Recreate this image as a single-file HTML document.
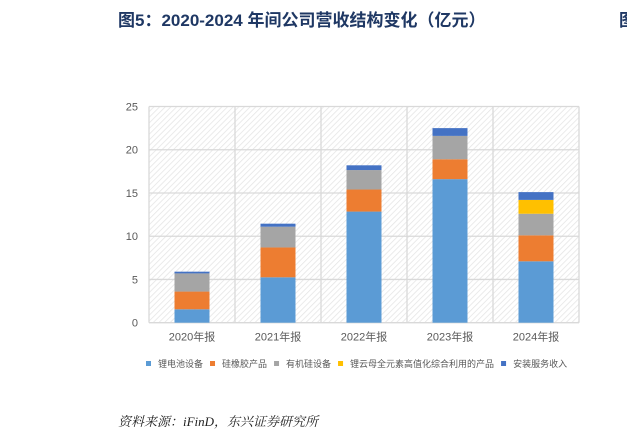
<!DOCTYPE html>
<html><head><meta charset="utf-8"><style>
body{margin:0;width:627px;height:441px;background:#fff;overflow:hidden;position:relative;font-family:"Liberation Sans","Noto Sans CJK SC",sans-serif}
.title{position:absolute;left:118px;top:6px;font-size:17px;font-weight:bold;color:#1f3864;white-space:nowrap}
.src{position:absolute;left:118px;top:411px;font-size:13px;font-style:italic;color:#222;font-family:"Liberation Serif","Noto Serif CJK SC",serif}
</style></head><body>
<div class="title">图5：2020-2024 年间公司营收结构变化（亿元）</div>
<div class="title" style="left:619px">图</div>
<svg id="c" width="627" height="441" style="position:absolute;left:0;top:0">
<defs><pattern id="h" width="4" height="4" patternUnits="userSpaceOnUse" patternTransform="rotate(45)"><rect width="4" height="4" fill="#fff"/><line x1="0" y1="0" x2="0" y2="4" stroke="#e4e4e4" stroke-width="1.5"/></pattern></defs>
</svg>
<div class="src">资料来源：iFinD，东兴证券研究所</div>
<script>
const categories=["2020年报","2021年报","2022年报","2023年报","2024年报"];
const seriesNames=["锂电池设备","硅橡胶产品","有机硅设备","锂云母全元素高值化综合利用的产品","安装服务收入"];
const colors=["#5b9bd5","#ed7d31","#a5a5a5","#ffc000","#4472c4"];
const s0=[1.55,5.25,12.85,16.6,7.1];
const s1=[2.05,3.45,2.55,2.3,3.0];
const s2=[2.1,2.4,2.25,2.7,2.5];
const s3=[0,0,0,0,1.6];
const s4=[0.2,0.35,0.55,0.9,0.9];
const yTicks=[0,5,10,15,20,25];
const series=[s0,s1,s2,s3,s4];
const svg=document.getElementById('c');const NS='http://www.w3.org/2000/svg';
const L=149,R=579,T=106.5,B=322.7,ymax=25;
const y=v=>B-(B-T)*v/ymax;const cw=(R-L)/categories.length;const x=i=>L+cw*i+cw/2;
function mk(t,a,p){const e=document.createElementNS(NS,t);for(const k in a)e.setAttribute(k,a[k]);(p||svg).appendChild(e);return e;}
const bg=mk('rect',{x:L,y:T,width:R-L,height:B-T,fill:'url(#h)'});


yTicks.forEach(t=>{const g=mk('line',{x1:L,x2:R,y1:y(t),y2:y(t),stroke:'#d9d9d9','stroke-width':1.3});


const tx=mk('text',{x:L-11,y:y(t)+4,'text-anchor':'end','font-size':11,fill:'#595959'});tx.textContent=t;

});
for(let i=0;i<=categories.length;i++){const g=mk('line',{x1:L+cw*i,x2:L+cw*i,y1:T,y2:B,stroke:'#d9d9d9','stroke-width':1.3});

}
const bw=35;
categories.forEach((c,i)=>{let acc=0;series.forEach((s,k)=>{const v=s[i];if(v>0){const r=mk('rect',{x:x(i)-bw/2,y:y(acc+v),width:bw,height:y(acc)-y(acc+v),fill:colors[k]});

}acc+=v;});
const tx=mk('text',{x:x(i),y:B+18,'text-anchor':'middle','font-size':11,fill:'#595959'});tx.textContent=c;

});
let lx=146;seriesNames.forEach((n,k)=>{mk('rect',{x:lx,y:361,width:5,height:5,fill:colors[k]});
const tx=mk('text',{x:lx+12,y:367,'font-size':9,fill:'#595959'});tx.textContent=n;


lx+=12+tx.getComputedTextLength()+7;});
</script>
</body></html>
